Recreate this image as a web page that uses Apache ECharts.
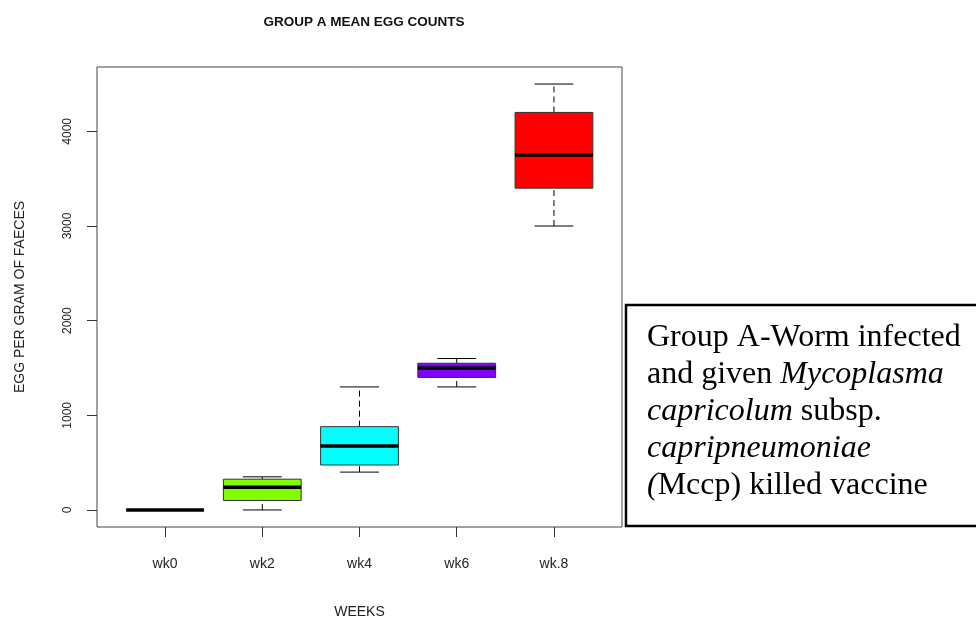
<!DOCTYPE html>
<html>
<head>
<meta charset="utf-8">
<script src="https://cdn.jsdelivr.net/npm/echarts@6/dist/echarts.min.js"></script>
<style>
  html, body { margin: 0; padding: 0; background: #fff; }
  #chart { width: 976px; height: 617px; }
</style>
</head>
<body>
<div id="chart"></div>
<script>
// Weekly egg counts (eggs per gram of faeces), five-number summaries
const weeks = ['wk0', 'wk2', 'wk4', 'wk6', 'wk.8'];
const lowerWhisker = [0, 0, 400, 1300, 3000];
const lowerQuartile = [0, 100, 475, 1400, 3400];
const medians = [0, 240, 675, 1500, 3750];
const upperQuartile = [0, 325, 880, 1550, 4200];
const upperWhisker = [0, 350, 1300, 1600, 4500];
const outliers = [[4, 1800]]; // [week position, value]
const boxColors = ['#000000', '#7FFF00', '#00FFFF', '#7F00FF', '#FF0000'];
const yTicks = [0, 1000, 2000, 3000, 4000];

const boxData = weeks.map((w, i) => [
  i + 1, lowerWhisker[i], lowerQuartile[i], medians[i], upperQuartile[i], upperWhisker[i]
]);

function renderBox(params, api) {
  const x = api.value(0);
  const lo = api.coord([x, api.value(1)]);
  const q1 = api.coord([x, api.value(2)]);
  const md = api.coord([x, api.value(3)]);
  const q3 = api.coord([x, api.value(4)]);
  const hi = api.coord([x, api.value(5)]);
  const halfBox = api.size([0.8, 0])[0] / 2;
  const halfCap = api.size([0.4, 0])[0] / 2;
  const cx = lo[0];
  const dash = { stroke: '#000', lineWidth: 1, lineDash: [6, 4] };
  const solid = { stroke: '#000', lineWidth: 1 };
  return {
    type: 'group',
    children: [
      { type: 'line', shape: { x1: cx, y1: q3[1], x2: cx, y2: hi[1] }, style: dash },
      { type: 'line', shape: { x1: cx, y1: lo[1], x2: cx, y2: q1[1] }, style: dash },
      { type: 'line', shape: { x1: cx - halfCap, y1: hi[1], x2: cx + halfCap, y2: hi[1] }, style: solid },
      { type: 'line', shape: { x1: cx - halfCap, y1: lo[1], x2: cx + halfCap, y2: lo[1] }, style: solid },
      {
        type: 'rect',
        shape: { x: cx - halfBox, y: q3[1], width: halfBox * 2, height: q1[1] - q3[1] },
        style: { fill: boxColors[params.dataIndex], stroke: '#333', lineWidth: 1 }
      },
      {
        type: 'line',
        shape: { x1: cx - halfBox, y1: md[1], x2: cx + halfBox, y2: md[1] },
        style: { stroke: '#000', lineWidth: 3.5 }
      }
    ]
  };
}

const chart = echarts.init(document.getElementById('chart'), null, { renderer: 'canvas' });
chart.setOption({
  animation: false,
  backgroundColor: '#fff',
  title: {
    text: 'GROUP A MEAN EGG COUNTS',
    left: 359,
    top: 10,
    textAlign: 'center',
    textStyle: { fontFamily: 'Liberation Sans, Arial, sans-serif', fontSize: 13.5, fontWeight: 'bold', color: '#111' }
  },
  grid: {
    left: 97, top: 67, right: 354, bottom: 90,
    containLabel: false,
    outerBoundsMode: 'none',
    show: true, borderColor: '#444', borderWidth: 1, backgroundColor: 'transparent'
  },
  xAxis: {
    type: 'value',
    min: 0.3, max: 5.7,
    name: 'WEEKS',
    nameLocation: 'middle',
    nameGap: 78,
    nameTextStyle: { fontFamily: 'Liberation Sans, Arial, sans-serif', fontSize: 14, color: '#222' },
    axisLine: { show: false, onZero: false },
    splitLine: { show: false },
    axisTick: { show: true, length: 10, customValues: [1, 2, 3, 4, 5], lineStyle: { color: '#333' } },
    axisLabel: {
      customValues: [1, 2, 3, 4, 5],
      formatter: v => weeks[Math.round(v) - 1],
      margin: 30,
      fontFamily: 'Liberation Sans, Arial, sans-serif', fontSize: 14, color: '#222'
    }
  },
  yAxis: {
    type: 'value',
    min: -180, max: 4680,
    name: 'EGG PER GRAM OF FAECES',
    nameLocation: 'middle',
    nameGap: 70,
    nameRotate: 90,
    nameTextStyle: { fontFamily: 'Liberation Sans, Arial, sans-serif', fontSize: 14, color: '#222' },
    axisLine: { show: false, onZero: false },
    splitLine: { show: false },
    axisTick: { show: true, length: 10, customValues: yTicks, lineStyle: { color: '#333' } },
    axisLabel: {
      customValues: yTicks,
      formatter: v => String(v),
      rotate: 90,
      margin: 23,
      fontFamily: 'Liberation Sans, Arial, sans-serif', fontSize: 12, color: '#222'
    }
  },
  series: [
    {
      type: 'custom',
      renderItem: renderBox,
      encode: { x: 0, y: [1, 2, 3, 4, 5] },
      data: boxData,
      clip: false,
      z: 2
    },
    {
      type: 'scatter',
      data: outliers,
      symbol: 'emptyCircle',
      symbolSize: 8,
      itemStyle: { color: '#fff', borderColor: '#222', borderWidth: 1 },
      z: 3
    }
  ],
  graphic: [
    {
      type: 'rect',
      shape: { x: 626, y: 305, width: 360, height: 221 },
      style: { fill: '#fff', stroke: '#000', lineWidth: 2.5 },
      z: 10
    },
    {
      type: 'text',
      x: 647,
      y: 319,
      z: 11,
      style: {
        text: 'Group A-Worm infected\nand given {it|Mycoplasma}\n{it|capricolum} subsp.\n{it|capripneumoniae}\n{it|(}Mccp) killed vaccine',
        font: '32px "Liberation Serif", "Times New Roman", serif',
        fill: '#000',
        lineHeight: 37,
        rich: {
          it: { fontStyle: 'italic', fontSize: 32, fontFamily: 'Liberation Serif', lineHeight: 37 }
        }
      }
    }
  ]
});
</script>
</body>
</html>
